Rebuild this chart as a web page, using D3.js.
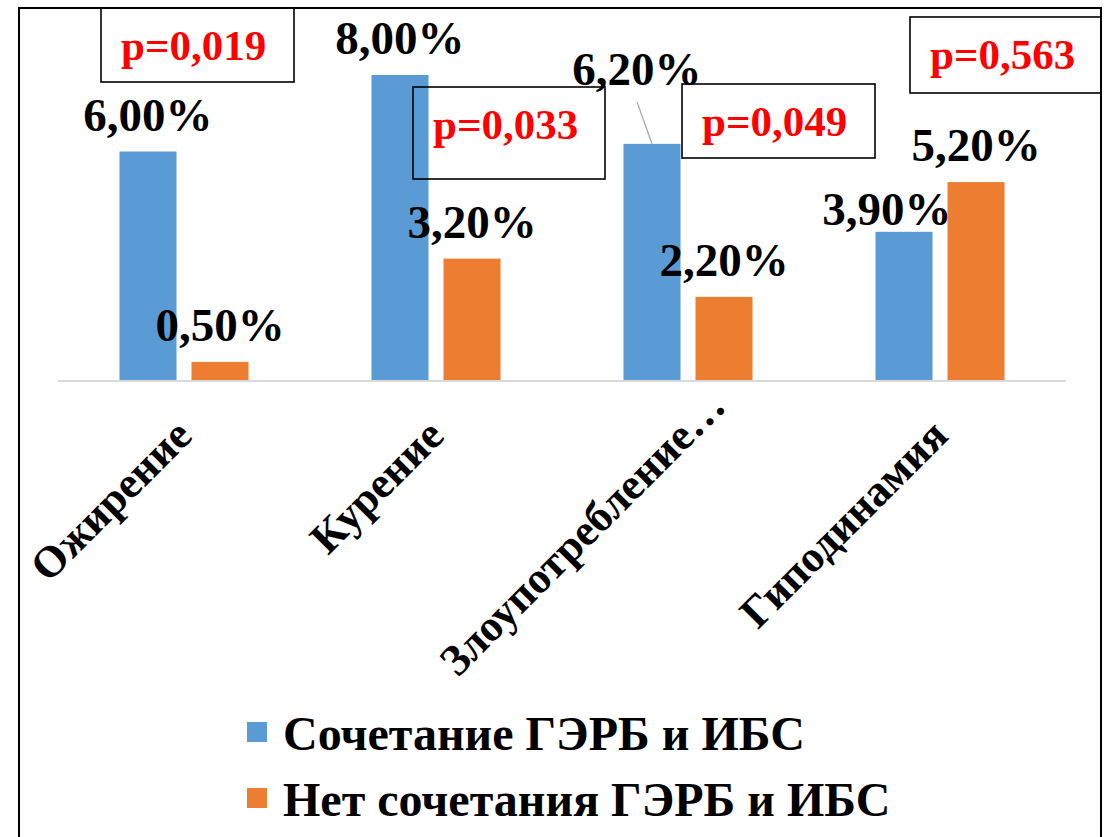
<!DOCTYPE html>
<html>
<head>
<meta charset="utf-8">
<script src="https://cdn.jsdelivr.net/npm/d3@7"></script>
<style>
  body { margin: 0; background: #fff; }
  svg { display: block; }
  text { font-family: "Liberation Serif", "Times New Roman", serif; font-weight: bold; }
</style>
</head>
<body>
<svg id="chart" width="1104" height="837"></svg>
<script>
// Risk factors by group (percent of patients)
const categories = ["Ожирение", "Курение", "Злоупотребление…", "Гиподинамия"];
const seriesNames = ["Сочетание ГЭРБ и ИБС", "Нет сочетания ГЭРБ и ИБС"];
const combined = [6.0, 8.0, 6.2, 3.9];
const notCombined = [0.5, 3.2, 2.2, 5.2];
const pValues = ["p=0,019", "p=0,033", "p=0,049", "p=0,563"];

// Layout settings
const colors = ["#5b9bd5", "#ed7d31"];
const plot = { left: 58, right: 1066, baseline: 381, top: 36.75 };
const pBoxes = [
  { x: 101, y: 8,  w: 193, h: 74 },
  { x: 413, y: 87, w: 192, h: 92 },
  { x: 682, y: 84, w: 193, h: 74 },
  { x: 910, y: 17, w: 191, h: 76 }
];
// Hand-placed value labels: [category, series] -> shift from default spot
const labelShift = { "2-0": [-15, -38], "3-0": [-17, 14] };
// Extra slide along the text direction for the truncated category label
const tickSlide = [0, 0, 42, 0];

const svg = d3.select("#chart");

const x0 = d3.scaleBand().domain(categories).range([plot.left, plot.right]);
const x1 = d3.scaleBand().domain(d3.range(seriesNames.length))
  .range([0, x0.bandwidth()]).paddingInner(15 / 72).paddingOuter(0.854);
const y = d3.scaleLinear().domain([0, 9]).range([plot.baseline, plot.top]);

const rows = categories.map((c, i) => ({ cat: c, i, vals: [combined[i], notCombined[i]] }));

// Outer frame
svg.append("rect")
  .attr("x", 19).attr("y", 8).attr("width", 1082).attr("height", 900)
  .attr("fill", "none").attr("stroke", "#000").attr("stroke-width", 2);

// Bars
const groups = svg.append("g").selectAll("g").data(rows).join("g")
  .attr("transform", d => `translate(${x0(d.cat)},0)`);

groups.selectAll("rect").data(d => d.vals.map((v, s) => ({ v, s, i: d.i }))).join("rect")
  .attr("x", d => x1(d.s))
  .attr("y", d => y(d.v))
  .attr("width", x1.bandwidth())
  .attr("height", d => y(0) - y(d.v))
  .attr("fill", d => colors[d.s]);

// Category axis line
svg.append("line")
  .attr("x1", plot.left).attr("x2", plot.right)
  .attr("y1", y(0)).attr("y2", y(0))
  .attr("stroke", "#d9d9d9").attr("stroke-width", 2);

// Value labels
const fmt = v => v.toFixed(2).replace(".", ",") + "%";
const labels = [];
rows.forEach(r => r.vals.forEach((v, s) => {
  const cx = x0(r.cat) + x1(s) + x1.bandwidth() / 2;
  const key = `${r.i}-${s}`;
  const shift = labelShift[key] || [0, 0];
  labels.push({ v, s, i: r.i, barX: cx, barTop: y(v), lx: cx + shift[0], ly: y(v) - 21 + shift[1], moved: !!labelShift[key] });
}));

// Leader line for a label pulled far from its bar
svg.append("g").selectAll("line").data(labels.filter(d => d.moved && d.ly < d.barTop - 40)).join("line")
  .attr("x1", d => d.lx).attr("y1", d => d.ly + 17)
  .attr("x2", d => d.barX).attr("y2", d => d.barTop)
  .attr("stroke", "#a6a6a6").attr("stroke-width", 1.3);

svg.append("g").selectAll("text").data(labels).join("text")
  .attr("x", d => d.lx).attr("y", d => d.ly)
  .attr("text-anchor", "middle")
  .attr("font-size", 47)
  .attr("fill", "#000")
  .text(d => fmt(d.v));

// Significance boxes
const pg = svg.append("g").selectAll("g").data(pBoxes).join("g");
pg.append("rect")
  .attr("x", d => d.x).attr("y", d => d.y)
  .attr("width", d => d.w).attr("height", d => d.h)
  .attr("fill", "none").attr("stroke", "#000").attr("stroke-width", 1.6);
pg.append("text")
  .attr("x", d => d.x + 20).attr("y", d => d.y + 52)
  .attr("font-size", 43).attr("fill", "#ff0000")
  .text((d, i) => pValues[i]);

// Rotated category labels
const k = Math.SQRT1_2;
svg.append("g").selectAll("text").data(categories).join("text")
  .attr("transform", (d, i) => {
    const tx = x0(d) + x0.bandwidth() / 2 + 10 + tickSlide[i] * k;
    const ty = 438 - tickSlide[i] * k;
    return `translate(${tx},${ty}) rotate(-45)`;
  })
  .attr("text-anchor", "end")
  .attr("font-size", 44)
  .attr("fill", "#000")
  .text(d => d);

// Legend
const lg = svg.append("g").selectAll("g").data(seriesNames).join("g")
  .attr("transform", (d, i) => `translate(247,${722 + i * 66})`);
lg.append("rect").attr("width", 20).attr("height", 20).attr("fill", (d, i) => colors[i]);
lg.append("text").attr("x", 36).attr("y", 28)
  .attr("font-size", 48).attr("fill", "#000")
  .text(d => d);
</script>
</body>
</html>
